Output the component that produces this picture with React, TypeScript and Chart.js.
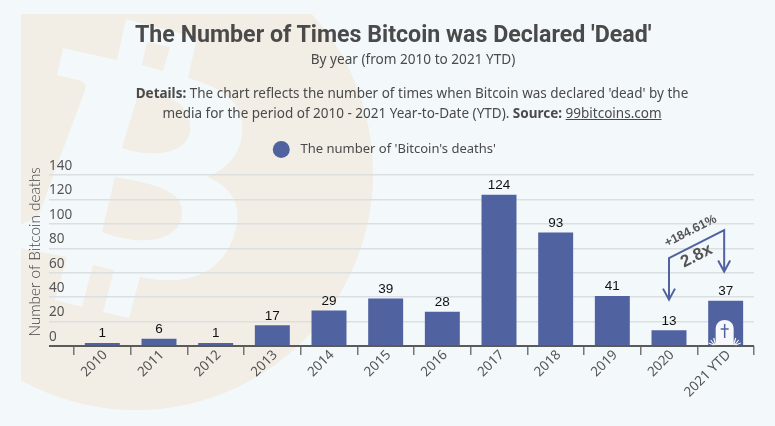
import { useEffect, useRef } from "react";
import { Chart, registerables } from "chart.js";

Chart.register(...registerables);

const years = ["2010", "2011", "2012", "2013", "2014", "2015", "2016", "2017", "2018", "2019", "2020", "2021 YTD"];
const deaths = [1, 6, 1, 17, 29, 39, 28, 124, 93, 41, 13, 37];
const seriesName = "The number of 'Bitcoin's deaths'";
const axisTitle = "Number of Bitcoin deaths";
const growthLabel = "+184.61%";
const multipleLabel = "2.8x";
// levels of the comparison arrow, in y axis units
const arrowFrom = [72, 38];
const arrowTo = [95, 61];

const BLUE = "#5063a0";
const BG = "#f3f8fb";
const COIN = "#f2ede5";
const TEXT = "#4a4a4a";
const BODY_FONT = "'Noto Sans'";

// the faded bitcoin logo behind everything
const coinPlugin = {
  id: "coin",
  beforeDraw(chart: any) {
    const ctx = chart.ctx;
    ctx.save();
    ctx.beginPath();
    ctx.rect(21, 14, 754, 412);
    ctx.clip();
    ctx.fillStyle = COIN;
    ctx.beginPath();
    ctx.arc(136, 173, 237, 0, Math.PI * 2);
    ctx.fill();

    ctx.fillStyle = BG;
    ctx.beginPath();
    ctx.moveTo(126, 19);
    ctx.lineTo(197, 38);
    ctx.lineTo(188, 78);
    ctx.bezierCurveTo(225, 88, 246, 105, 242, 135);
    ctx.bezierCurveTo(240, 155, 225, 170, 207, 177);
    ctx.bezierCurveTo(232, 187, 242, 205, 236, 228);
    ctx.bezierCurveTo(226, 272, 190, 288, 140, 277);
    ctx.lineTo(129, 318);
    ctx.lineTo(103, 312);
    ctx.lineTo(114, 270);
    ctx.lineTo(93, 265);
    ctx.lineTo(82, 307);
    ctx.lineTo(55, 300);
    ctx.lineTo(67, 257);
    ctx.lineTo(15, 247);
    ctx.lineTo(15, 227);
    ctx.lineTo(38, 217);
    ctx.lineTo(85, 90);
    ctx.quadraticCurveTo(87, 82, 78, 80);
    ctx.lineTo(57, 75);
    ctx.lineTo(63, 48);
    ctx.lineTo(117, 60);
    ctx.closePath();
    ctx.fill();

    ctx.fillStyle = COIN;
    // notch between the top stems
    ctx.beginPath();
    ctx.moveTo(147, 42);
    ctx.lineTo(170, 47);
    ctx.lineTo(163, 71);
    ctx.lineTo(142, 65);
    ctx.closePath();
    ctx.fill();
    // upper counter
    ctx.beginPath();
    ctx.moveTo(140, 88);
    ctx.bezierCurveTo(160, 93, 192, 100, 190, 130);
    ctx.bezierCurveTo(188, 155, 150, 158, 122, 148);
    ctx.closePath();
    ctx.fill();
    // lower counter
    ctx.beginPath();
    ctx.moveTo(115, 177);
    ctx.bezierCurveTo(150, 183, 185, 190, 182, 215);
    ctx.bezierCurveTo(178, 245, 135, 245, 102, 232);
    ctx.closePath();
    ctx.fill();
    ctx.restore();
  },
};

// value labels, arrow and the gravestone on the last bar
const overlayPlugin = {
  id: "overlay",
  afterDatasetsDraw(chart: any) {
    const ctx = chart.ctx;
    const bars = chart.getDatasetMeta(0).data;
    const y = chart.scales.y;
    ctx.save();
    ctx.fillStyle = "#111";
    ctx.font = "13.5px 'Liberation Sans'";
    ctx.textAlign = "center";
    ctx.textBaseline = "bottom";
    bars.forEach((bar: any, i: number) => {
      ctx.fillText(String(deaths[i]), bar.x, bar.y - 2.5);
    });

    const x1 = bars[10].x;
    const x2 = bars[11].x - 1.5;
    const y1 = y.getPixelForValue(arrowFrom[0]);
    const y1Tip = y.getPixelForValue(arrowFrom[1]);
    const y2 = y.getPixelForValue(arrowTo[0]);
    const y2Tip = y.getPixelForValue(arrowTo[1]);
    ctx.strokeStyle = BLUE;
    ctx.lineWidth = 2;
    ctx.beginPath();
    ctx.moveTo(x1, y1Tip);
    ctx.lineTo(x1, y1);
    ctx.lineTo(x2, y2);
    ctx.lineTo(x2, y2Tip);
    ctx.moveTo(x1 - 6, y1Tip - 11);
    ctx.lineTo(x1, y1Tip);
    ctx.lineTo(x1 + 6, y1Tip - 11);
    ctx.moveTo(x2 - 6, y2Tip - 11);
    ctx.lineTo(x2, y2Tip);
    ctx.lineTo(x2 + 6, y2Tip - 11);
    ctx.stroke();

    const midX = (x1 + x2) / 2;
    const midY = (y1 + y2) / 2;
    const angle = Math.atan2(y2 - y1, x2 - x1);
    ctx.fillStyle = "#555";
    ctx.textBaseline = "middle";
    ctx.save();
    ctx.translate(midX - 6, midY - 13);
    ctx.rotate(angle);
    ctx.font = "bold 12.5px 'Liberation Sans'";
    ctx.fillText(growthLabel, 0, 0);
    ctx.restore();
    ctx.save();
    ctx.translate(midX, midY + 12);
    ctx.rotate(angle);
    ctx.font = "bold 17px 'Liberation Sans'";
    ctx.fillText(multipleLabel, 0, 0);
    ctx.restore();

    // gravestone with grass at its foot
    const gx = bars[11].x - 1;
    const base = y.getPixelForValue(0) - 1;
    ctx.fillStyle = "#f6f8fc";
    ctx.beginPath();
    ctx.moveTo(gx - 9, base);
    ctx.lineTo(gx - 9, base - 16);
    ctx.bezierCurveTo(gx - 9, base - 28, gx + 9, base - 28, gx + 9, base - 16);
    ctx.lineTo(gx + 9, base);
    ctx.closePath();
    ctx.fill();
    ctx.strokeStyle = "#f6f8fc";
    ctx.lineWidth = 1.2;
    ctx.beginPath();
    [-1, 1].forEach((side) => {
      ctx.moveTo(gx + side * 9, base);
      ctx.lineTo(gx + side * 11, base - 7);
      ctx.moveTo(gx + side * 10, base);
      ctx.lineTo(gx + side * 14, base - 5);
      ctx.moveTo(gx + side * 11, base);
      ctx.lineTo(gx + side * 16, base - 2);
    });
    ctx.stroke();
    ctx.strokeStyle = BLUE;
    ctx.lineWidth = 1.5;
    ctx.beginPath();
    ctx.moveTo(gx, base - 21);
    ctx.lineTo(gx, base - 7);
    ctx.moveTo(gx - 4, base - 16);
    ctx.lineTo(gx + 4, base - 16);
    ctx.stroke();
    ctx.restore();
  },
};

export default function App() {
  const canvasRef = useRef<HTMLCanvasElement | null>(null);

  useEffect(() => {
    if (!canvasRef.current) return;
    const chart = new Chart(canvasRef.current, {
      type: "bar",
      data: {
        labels: years,
        datasets: [
          {
            label: seriesName,
            data: deaths,
            backgroundColor: BLUE,
            categoryPercentage: 1,
            barPercentage: 0.617,
            minBarLength: 3,
          },
        ],
      },
      options: {
        responsive: false,
        animation: false,
        layout: { padding: { left: 24, right: 21, top: 139, bottom: 0 } },
        plugins: {
          tooltip: { enabled: false },
          legend: {
            position: "top",
            onClick: () => {},
            labels: {
              usePointStyle: true,
              pointStyle: "circle",
              boxHeight: 12,
              boxWidth: 12,
              padding: 4,
              color: TEXT,
              font: { family: BODY_FONT, size: 13 },
              // wider gap after the dot, and the block sits a little left of centre
              generateLabels: (c: any) =>
                Chart.defaults.plugins.legend.labels.generateLabels(c).map((l: any) => ({
                  ...l,
                  text: "  " + l.text + "  ",
                })),
            },
          },
        },
        scales: {
          x: {
            afterFit: (s: any) => {
              s.height = 80;
            },
            border: { display: false },
            grid: {
              drawOnChartArea: false,
              tickLength: 9,
              tickColor: (c: any) => (c.index === 12 ? "#dfe2e4" : "#777"),
              lineWidth: 1.5,
            },
            ticks: {
              minRotation: 45,
              maxRotation: 45,
              autoSkip: false,
              padding: -8,
              labelOffset: 3,
              color: "#555",
              font: { family: BODY_FONT, size: 13.5 },
            },
          },
          y: {
            min: 0,
            max: 147.5,
            afterFit: (s: any) => {
              s.width = 50;
            },
            border: { display: false },
            grid: {
              tickLength: 25,
              color: (c: any) => (c.tick.value === 0 ? "#5a5a5a" : "#dcdfe1"),
              tickColor: (c: any) => (c.tick.value === 0 ? "#5a5a5a" : "#dcdfe1"),
              lineWidth: (c: any) => (c.tick.value === 0 ? 2 : 1.5),
            },
            title: {
              display: true,
              text: "  " + axisTitle,
              color: "#444",
              padding: { top: 1.5, bottom: 0 },
              font: { family: "Lato", size: 15.3, weight: "300" },
            },
            ticks: {
              stepSize: 20,
              autoSkip: false,
              includeBounds: false,
              mirror: true,
              padding: -25,
              color: "#555",
              font: { family: BODY_FONT, size: 13.5, lineHeight: 18 / 13.5 },
              // blank second line lifts the label above its grid line
              callback: (v: any) => [String(v), ""],
            },
          },
        },
      },
      plugins: [coinPlugin, overlayPlugin],
    });
    return () => chart.destroy();
  }, []);

  return (
    <div style={{ position: "absolute", left: 0, top: 0, width: 775, height: 426, background: BG, overflow: "hidden", color: TEXT }}>
      <canvas ref={canvasRef} width={775} height={426} style={{ position: "absolute", left: 0, top: 0 }} />
      <div style={{ position: "absolute", left: 135, top: 20, fontFamily: "Roboto", fontWeight: 700, fontSize: 23.2, lineHeight: "28px", whiteSpace: "nowrap" }}>
        The Number of Times Bitcoin was Declared 'Dead'
      </div>
      <div style={{ position: "absolute", left: 113, width: 600, top: 50, textAlign: "center", fontFamily: BODY_FONT, fontSize: 13.6, lineHeight: "18px" }}>
        By year (from 2010 to 2021 YTD)
      </div>
      <div style={{ position: "absolute", left: 112, width: 600, top: 83, textAlign: "center", fontFamily: BODY_FONT, fontSize: 13.5, lineHeight: "20px" }}>
        <b>Details:</b> The chart reflects the number of times when Bitcoin was declared 'dead' by the
        <br />
        media for the period of 2010 - 2021 Year-to-Date (YTD). <b>Source:</b> <u>99bitcoins.com</u>
      </div>
    </div>
  );
}
